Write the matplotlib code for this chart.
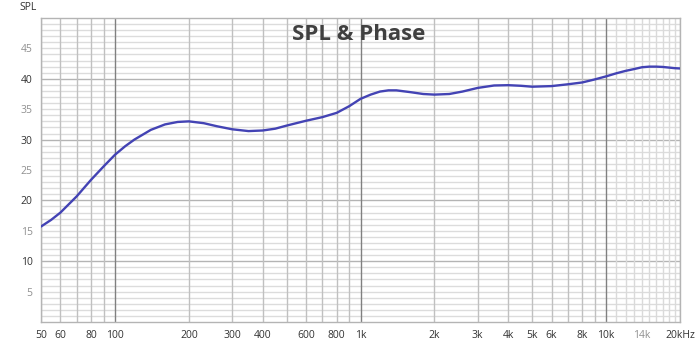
import numpy as np
import matplotlib
matplotlib.use('Agg')
import matplotlib.pyplot as plt
import matplotlib.ticker as mtick

# frequency response (Hz, dB SPL)
freq = [50, 55, 60, 65, 70, 75, 80, 90, 100, 110, 120, 140, 160, 180, 200,
        230, 260, 300, 350, 400, 450, 500, 600, 700, 800, 900, 1000, 1100,
        1200, 1300, 1400, 1600, 1800, 2000, 2300, 2600, 3000, 3500, 4000,
        4500, 5000, 6000, 7000, 8000, 9000, 10000, 11000, 12000, 13000,
        14000, 15000, 16000, 17000, 18000, 19000, 20000]
spl = [15.7, 16.8, 18.0, 19.4, 20.7, 22.1, 23.4, 25.6, 27.5, 28.9, 30.0, 31.6,
       32.5, 32.9, 33.0, 32.7, 32.2, 31.7, 31.4, 31.5, 31.8, 32.3, 33.1, 33.7,
       34.4, 35.5, 36.7, 37.4, 37.9, 38.1, 38.1, 37.8, 37.5, 37.4, 37.5, 37.9,
       38.5, 38.9, 38.95, 38.85, 38.7, 38.8, 39.1, 39.4, 39.9, 40.4, 40.9,
       41.3, 41.6, 41.9, 42.0, 42.0, 41.95, 41.85, 41.75, 41.7]

xticks = [50, 60, 80, 100, 200, 300, 400, 600, 800, 1000, 2000, 3000, 4000,
          5000, 6000, 8000, 10000, 14000, 20000]
xlabels = ['50', '60', '80', '100', '200', '300', '400', '600', '800', '1k',
           '2k', '3k', '4k', '5k', '6k', '8k', '10k', '14k', '20kHz']
yticks = [5, 10, 15, 20, 25, 30, 35, 40, 45]

plt.rcParams['font.family'] = ['Open Sans', 'DejaVu Sans']

fig = plt.figure(figsize=(7, 3.47), dpi=100)
ax = fig.add_axes([41 / 700, 25 / 347, 639 / 700, 304 / 347])
ax.set_xscale('log')
ax.set_xlim(50, 20000)
ax.set_ylim(0, 50)

# grid: 1 dB minor lines, 10 dB major lines
for v in range(1, 50):
    c = '#b4b4b4' if v % 10 == 0 else '#dcdcdc'
    ax.axhline(v, color=c, lw=1, zorder=0)

# vertical grid: decades dark, 2..9 mid grey, 11k..19k light
for dec in [10, 100, 1000, 10000]:
    for m in range(2, 10):
        f = m * dec
        if 50 <= f <= 20000:
            ax.axvline(f, color='#c0c0c0', lw=1, zorder=0)
for f in [100, 1000, 10000]:
    ax.axvline(f, color='#808080', lw=1, zorder=0)
for f in range(11000, 20000, 1000):
    ax.axvline(f, color='#dadada', lw=1, zorder=0)

ax.plot(freq, spl, color='#4343b4', lw=1.7, zorder=3, solid_capstyle='round')

for s in ax.spines.values():
    s.set_color('#b4b4b4')
    s.set_linewidth(1)

ax.xaxis.set_major_locator(mtick.FixedLocator(xticks))
ax.xaxis.set_minor_locator(mtick.NullLocator())
ax.set_xticks(xticks)
ax.set_xticklabels(xlabels)
ax.set_yticks(yticks)
ax.set_yticklabels([str(v) for v in yticks])
ax.tick_params(length=0, labelsize=7.5, pad=6)

for lab, f in zip(ax.get_xticklabels(), xticks):
    lab.set_color('#909090' if f == 14000 else '#333333')
for lab, v in zip(ax.get_yticklabels(), yticks):
    lab.set_color('#333333' if v % 10 == 0 else '#909090')

fig.text(28 / 700, 1 - 8 / 347, 'SPL', fontsize=7.5, color='#333333',
         ha='center', va='center')
fig.text(359 / 700, 1 - 35 / 347, 'SPL & Phase', fontsize=16,
         fontweight='bold', color='#404040', ha='center', va='center')

fig.savefig('out.png', dpi=100)
